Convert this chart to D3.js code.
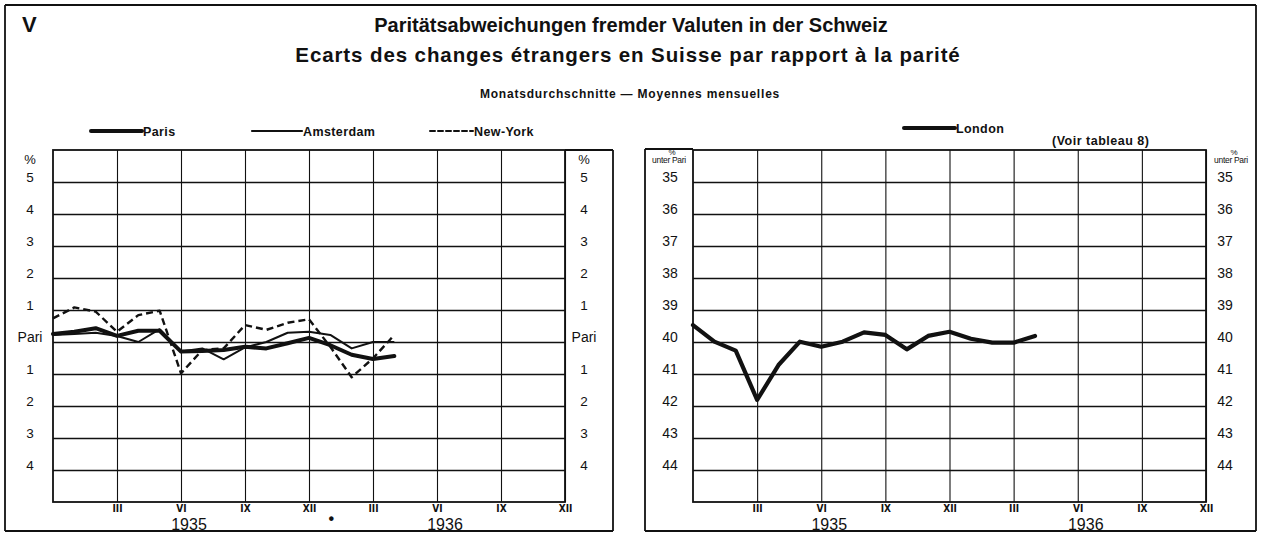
<!DOCTYPE html>
<html><head><meta charset="utf-8">
<script src="https://cdn.jsdelivr.net/npm/d3@7/dist/d3.min.js"></script>
<style>
body{margin:0;background:#fff;}
svg{display:block;font-family:"Liberation Sans",Arial,sans-serif;}
</style></head>
<body><svg id="c" width="1262" height="534"></svg>
<script>
// ---------- DATA ----------
const seriesMonths = ["1934-12","1935-01","1935-02","1935-03","1935-04","1935-05","1935-06","1935-07","1935-08","1935-09","1935-10","1935-11","1935-12","1936-01","1936-02","1936-03","1936-04"];
// deviation from parity in % (positive = above parity)
const paris     = [0.25,0.32,0.43,0.19,0.35,0.35,-0.30,-0.28,-0.25,-0.15,-0.20,-0.04,0.13,-0.10,-0.40,-0.53,-0.44];
const amsterdam = [0.22,0.25,0.29,0.19,0.00,0.40,-0.30,-0.20,-0.54,-0.17,0.00,0.29,0.32,0.22,-0.20,0.00,0.00];
const newYork   = [0.74,1.08,0.95,0.32,0.84,0.98,-0.98,-0.25,-0.20,0.53,0.38,0.60,0.71,-0.15,-1.10,-0.51,0.22];
// London: % below parity
const london    = [39.47,39.99,40.27,41.81,40.72,39.99,40.15,39.99,39.70,39.78,40.23,39.81,39.68,39.90,40.02,40.02,39.81];

const tickMonths = ["1935-03","1935-06","1935-09","1935-12","1936-03","1936-06","1936-09","1936-12"];
const tickRoman  = ["III","VI","IX","XII","III","VI","IX","XII"];
const yearLabels = ["1935","1936"];
const yearMonths = ["1935-06","1936-06"];
const leftTickValues = [5,4,3,2,1,0,-1,-2,-3,-4];
const leftTickLabels = ["5","4","3","2","1","Pari","1","2","3","4"];
const rightTickValues = [35,36,37,38,39,40,41,42,43,44];

const titleLines = ["Paritätsabweichungen fremder Valuten in der Schweiz","Ecarts des changes étrangers en Suisse par rapport à la parité"];
const subtitle = "Monatsdurchschnitte — Moyennes mensuelles";

// ---------- LAYOUT ----------
const svg = d3.select("#c");
const fmt = d3.timeFormat("%Y-%m");
const allMonths = d3.timeMonth.range(new Date(1934,11,1), new Date(1937,0,1)).map(fmt);
const plotTop = 150, plotBottom = 502;

const ink = "#111";

// outer frame
const frame = svg.append("g").attr("stroke", ink).attr("stroke-width", 1.8).attr("fill","none");
[[5,5,1256,5],[5,5,5,531],[1256,5,1256,531],[5,531,613,531],[645,531,1256,531],
 [613,150,613,531],[565,150,613,150],[645,149,645,531],[645,149,693,149]].forEach(l=>{
  frame.append("line").attr("x1",l[0]).attr("y1",l[1]).attr("x2",l[2]).attr("y2",l[3]);
});

// titles
svg.append("text").attr("x",22).attr("y",32).attr("font-size",22).attr("font-weight","bold").attr("fill",ink).text("V");
svg.append("text").attr("x",631).attr("y",32).attr("text-anchor","middle").attr("font-size",20).attr("font-weight","bold").attr("fill",ink).text(titleLines[0]);
svg.append("text").attr("x",628).attr("y",62).attr("text-anchor","middle").attr("font-size",20.5).attr("letter-spacing",0.9).attr("font-weight","bold").attr("fill",ink).text(titleLines[1]);
svg.append("text").attr("x",630).attr("y",98).attr("text-anchor","middle").attr("font-size",12).attr("letter-spacing",0.8).attr("font-weight","bold").attr("fill",ink).text(subtitle);

function panel(x0, x1, yScale, tickVals, tickFmt, labelSize){
  const x = d3.scalePoint().domain(allMonths).range([x0, x1]);
  const g = svg.append("g");
  const ay = g.append("g").attr("transform",`translate(${x0},0)`)
    .call(d3.axisLeft(yScale).tickValues(tickVals).tickSize(-(x1-x0)).tickFormat(""));
  ay.select(".domain").remove();
  ay.selectAll(".tick line").attr("stroke",ink).attr("stroke-width",1.3);
  const ax = g.append("g").attr("transform",`translate(0,${plotBottom})`)
    .call(d3.axisBottom(x).tickValues(tickMonths).tickSize(-(plotBottom-plotTop)).tickFormat((d,i)=>tickRoman[i]));
  ax.select(".domain").remove();
  ax.selectAll(".tick line").attr("stroke",ink).attr("stroke-width",1.1);
  ax.selectAll(".tick text").attr("y",2).attr("dy","0.75em").attr("font-size",10).attr("font-weight","bold").attr("fill",ink)
    .attr("font-family","'Liberation Sans Narrow','DejaVu Sans Condensed',sans-serif");
  g.append("rect").attr("x",x0).attr("y",plotTop).attr("width",x1-x0).attr("height",plotBottom-plotTop)
    .attr("fill","none").attr("stroke",ink).attr("stroke-width",1.8);
  g.selectAll(".yr").data(yearLabels).join("text").attr("class","yr")
    .attr("x",(d,i)=>x(yearMonths[i])+8).attr("y",529.5).attr("text-anchor","middle")
    .attr("font-size",16).attr("fill",ink).text(d=>d);
  [x0-23, x1+19].forEach(lx=>{
    g.append("g").selectAll("text").data(tickVals).join("text")
      .attr("x",lx).attr("y",d=>yScale(d)).attr("text-anchor","middle")
      .attr("font-size",d=>tickFmt(d)==="Pari"?14:labelSize).attr("fill",ink).text(tickFmt);
  });
  return {x, g};
}

// LEFT PANEL
const yL = d3.scaleLinear().domain([-5,6]).range([plotBottom, plotTop]);
const L = panel(53, 565, yL, leftTickValues, (d)=>leftTickLabels[leftTickValues.indexOf(d)], 13.5);
[30, 584].forEach(px=>svg.append("text").attr("x",px).attr("y",164).attr("text-anchor","middle").attr("font-size",13).attr("fill",ink).text("%"));
svg.append("text").attr("x",L.x("1936-01")+1).attr("y",524).attr("text-anchor","middle").attr("font-size",16).attr("font-weight","bold").attr("fill",ink).text("•");

const lineL = d3.line().x((d,i)=>L.x(seriesMonths[i])).y(d=>yL(d));
const sL = svg.append("g").attr("fill","none").attr("stroke",ink).attr("stroke-linejoin","round");
sL.append("path").attr("d",lineL(newYork)).attr("stroke-width",2.4).attr("stroke-dasharray","7,4");
sL.append("path").attr("d",lineL(amsterdam)).attr("stroke-width",2);
sL.append("path").attr("d",lineL(paris)).attr("stroke-width",4).attr("stroke-linecap","round");

// left legend
const legend = [
  {name:"Paris", x1:91, x2:142, w:4, dash:null},
  {name:"Amsterdam", x1:252, x2:302, w:2.2, dash:null},
  {name:"New-York", x1:430, x2:473, w:2, dash:"5,3"}
];
const lg = svg.append("g");
legend.forEach(d=>{
  lg.append("line").attr("x1",d.x1).attr("x2",d.x2).attr("y1",131).attr("y2",131).attr("stroke",ink)
    .attr("stroke-width",d.w).attr("stroke-dasharray",d.dash).attr("stroke-linecap","round");
  lg.append("text").attr("x",d.x2+1).attr("y",135.5).attr("font-size",12.5).attr("font-weight","bold")
    .attr("letter-spacing",0.4).attr("fill",ink).text(d.name);
});

// RIGHT PANEL
const yR = d3.scaleLinear().domain([45,34]).range([plotBottom, plotTop]);
const R = panel(693, 1206, yR, rightTickValues, d=>String(d), 14);
[669, 1231].forEach(px=>{
  svg.append("text").attr("x",px+3).attr("y",155).attr("text-anchor","middle").attr("font-size",8).attr("fill",ink).text("%");
  svg.append("text").attr("x",px).attr("y",163).attr("text-anchor","middle").attr("font-size",8.5)
    .attr("letter-spacing",-0.3).attr("fill",ink).text("unter Pari");
});
const lineR = d3.line().x((d,i)=>R.x(seriesMonths[i])).y(d=>yR(d));
svg.append("path").attr("d",lineR(london)).attr("fill","none").attr("stroke",ink)
  .attr("stroke-width",4.2).attr("stroke-linejoin","round").attr("stroke-linecap","round");

svg.append("line").attr("x1",904).attr("x2",955).attr("y1",128).attr("y2",128).attr("stroke",ink).attr("stroke-width",4).attr("stroke-linecap","round");
svg.append("text").attr("x",956).attr("y",132.5).attr("font-size",12.5).attr("font-weight","bold").attr("letter-spacing",0.4).attr("fill",ink).text("London");
svg.append("text").attr("x",1052).attr("y",144.5).attr("font-size",12.5).attr("font-weight","bold").attr("letter-spacing",0.5).attr("fill",ink).text("(Voir tableau  8)");
</script></body></html>
